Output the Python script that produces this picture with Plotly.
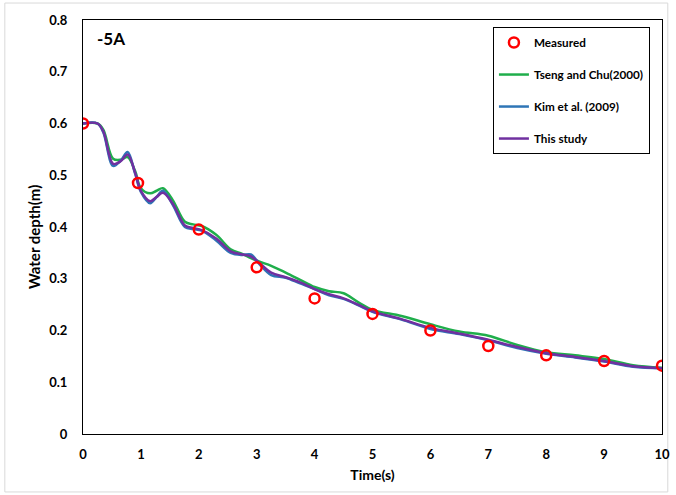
import plotly.graph_objects as go

# Measured water depth
t_meas = [0, 0.95, 2, 3, 4, 5, 6, 7, 8, 9, 10]
h_meas = [0.600, 0.485, 0.395, 0.322, 0.262, 0.232, 0.200, 0.170, 0.152, 0.141, 0.132]

# Simulated water depth time series
t_sim = [0, 0.25, 0.35, 0.52, 0.65, 0.77, 0.9, 1.0, 1.16, 1.27, 1.38, 1.55, 1.76, 1.9,
         2.05, 2.3, 2.55, 2.75, 2.9, 3.05, 3.25, 3.5, 3.75, 4.0, 4.25, 4.5, 4.75, 5.0,
         5.5, 6.0, 6.5, 7.0, 7.5, 8.0, 8.5, 9.0, 9.5, 10]

h_tseng = [0.600, 0.600, 0.588, 0.532, 0.530, 0.535, 0.508, 0.475, 0.465, 0.470, 0.475,
           0.452, 0.410, 0.405, 0.402, 0.385, 0.357, 0.348, 0.340, 0.333, 0.325, 0.312,
           0.298, 0.284, 0.276, 0.272, 0.255, 0.240, 0.228, 0.212, 0.198, 0.190, 0.172,
           0.158, 0.152, 0.145, 0.133, 0.128]

h_kim = [0.600, 0.600, 0.583, 0.518, 0.528, 0.545, 0.503, 0.468, 0.446, 0.458, 0.470,
         0.443, 0.400, 0.396, 0.393, 0.374, 0.350, 0.346, 0.347, 0.328, 0.307, 0.302,
         0.291, 0.280, 0.268, 0.261, 0.249, 0.236, 0.221, 0.203, 0.193, 0.181, 0.166,
         0.155, 0.148, 0.140, 0.130, 0.127]

h_this = [0.600, 0.600, 0.585, 0.522, 0.527, 0.540, 0.505, 0.470, 0.450, 0.458, 0.466,
          0.445, 0.403, 0.398, 0.394, 0.378, 0.353, 0.347, 0.343, 0.330, 0.312, 0.303,
          0.293, 0.280, 0.270, 0.262, 0.250, 0.237, 0.222, 0.205, 0.194, 0.182, 0.168,
          0.156, 0.149, 0.141, 0.131, 0.127]

# Axis ticks
x_ticks = [0, 1, 2, 3, 4, 5, 6, 7, 8, 9, 10]
y_ticks = [0, 0.1, 0.2, 0.3, 0.4, 0.5, 0.6, 0.7, 0.8]
y_tick_labels = ["0", "0.1", "0.2", "0.3", "0.4", "0.5", "0.6", "0.7", "0.8"]

FONT = "Lato"

fig = go.Figure()
fig.add_trace(go.Scatter(x=t_sim, y=h_tseng, mode="lines", name="Tseng and Chu(2000)",
                         line=dict(color="#1fae4b", width=2.5, shape="spline"),
                         legendgroup="b", legendrank=2))
fig.add_trace(go.Scatter(x=t_sim, y=h_kim, mode="lines", name="Kim et al. (2009)",
                         line=dict(color="#2e75b6", width=2.5, shape="spline"),
                         legendgroup="c", legendrank=3))
fig.add_trace(go.Scatter(x=t_sim, y=h_this, mode="lines", name="This study",
                         line=dict(color="#7030a0", width=2.5, shape="spline"),
                         legendgroup="d", legendrank=4))
fig.add_trace(go.Scatter(x=t_meas, y=h_meas, mode="markers", name="Measured",
                         marker=dict(symbol="circle-open", size=10, color="#ff0000",
                                     line=dict(width=2.5, color="#ff0000")),
                         legendgroup="a", legendrank=1))

axis_common = dict(showgrid=False, zeroline=False, showline=True, linecolor="black",
                   linewidth=1, mirror=True, ticks="", automargin=False,
                   tickfont=dict(family=FONT, size=13, color="black", weight="bold"))

fig.update_layout(
    width=676, height=495,
    margin=dict(l=83, r=14, t=20, b=61),
    paper_bgcolor="white", plot_bgcolor="white",
    font=dict(family=FONT, color="black"),
    xaxis=dict(range=[0, 10], tickvals=x_ticks, ticklabelstandoff=8,
               title=dict(text="<b>Time(s)</b>", standoff=9,
                          font=dict(family=FONT, size=14)), **axis_common),
    yaxis=dict(range=[0, 0.8], tickvals=y_ticks, ticktext=y_tick_labels,
               ticklabelstandoff=12, **axis_common),
    legend=dict(x=0.708, y=0.983, xanchor="left", yanchor="top",
                bgcolor="white", bordercolor="black", borderwidth=1,
                font=dict(family=FONT, size=11.7, color="black", weight="bold"),
                traceorder="grouped", tracegroupgap=13, itemwidth=30),
    showlegend=True,
    annotations=[
        dict(text="<b>-5A</b>", x=0.02, y=0.955, xref="paper", yref="paper",
             xanchor="left", yanchor="middle", showarrow=False,
             font=dict(family=FONT, size=17, color="black")),
        dict(text="<b>Water depth(m)</b>", x=0, y=0.5, xref="paper", yref="paper",
             xanchor="center", yanchor="middle", xshift=-49, yshift=-10,
             textangle=-90, showarrow=False,
             font=dict(family=FONT, size=15, color="black")),
    ],
    shapes=[dict(type="rect", xref="paper", yref="paper",
                 x0=-0.135, x1=1.01, y0=-0.14, y1=1.041,
                 line=dict(color="#d9d9d9", width=1), layer="below")],
)

fig.write_html("out.html")
